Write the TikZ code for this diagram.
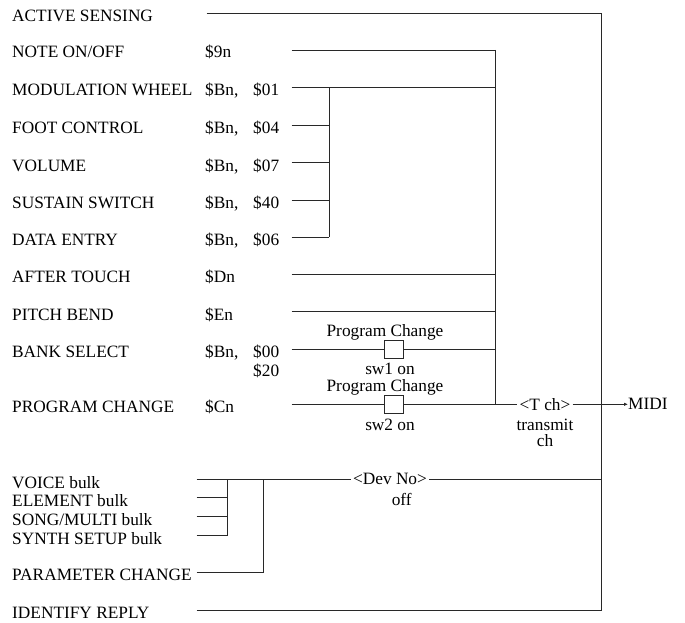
\documentclass[tikz,border=0pt]{standalone}
\usepackage{fontspec}
\setmainfont{Liberation Serif}
\usepackage{tikz}
\usetikzlibrary{arrows.meta, positioning}
\definecolor{mywire}{RGB}{40,40,40}
\tikzset{
  lbl/.style={anchor=base west, inner sep=0pt},
  ctr/.style={anchor=base, inner sep=0pt},
  wire/.style={line width=0.8pt, color=mywire},
  swbox/.style={rectangle, draw=mywire, fill=white, minimum width=19pt,
    minimum height=18pt, inner sep=0pt, line width=0.8pt},
  tag/.style={inner sep=2pt},
  arrow/.style={-{Latex[length=4pt,width=3.5pt]}, line width=0.8pt, color=mywire}
}

\begin{document}
\begin{tikzpicture}[x=1pt, y=-1pt, font=\fontsize{17.3}{19}\selectfont]
  \useasboundingbox (0,0) rectangle (685,623);

  % Bus lines
  \coordinate (outtop) at (601.7,13.3);
  \coordinate (outbot) at (601.7,610.7);
  \coordinate (chtop) at (495,50);
  \coordinate (chbot) at (495,404.3);
  \draw[wire] (outtop) -- (outbot);
  \draw[wire] (chtop) -- (chbot);

  % Active sensing
  \node[lbl] (as) at (12,21.3) {ACTIVE SENSING};
  \coordinate (as-w) at (206.7,13.3);
  \draw[wire] (as-w) -- (outtop);

  % Note on/off
  \node[lbl] (note) at (12,58) {NOTE ON/OFF};
  \node[lbl] (note-c) at (205,58) {\$9n};
  \coordinate (note-w) at (291.7,50);
  \draw[wire] (note-w) -- (chtop);

  % Control change group
  \coordinate (ccbus-top) at (329.3,87.7);
  \coordinate (ccbus-bot) at (329.3,237.3);
  \draw[wire] (ccbus-top) -- (ccbus-bot);

  \node[lbl] (mw) at (12,96) {MODULATION WHEEL};
  \node[lbl] (mw-s) at (205,96) {\$Bn,};
  \node[lbl] (mw-c) at (253,96) {\$01};
  \coordinate (mw-w) at (291.7,87.7);
  \coordinate (mw-e) at (495,87.7);
  \draw[wire] (mw-w) -- (mw-e);

  \node[lbl] (fc) at (12,133.3) {FOOT CONTROL};
  \node[lbl] (fc-s) at (205,133.3) {\$Bn,};
  \node[lbl] (fc-c) at (253,133.3) {\$04};
  \coordinate (fc-w) at (291.7,125);
  \draw[wire] (fc-w) -- (ccbus-top |- fc-w);

  \node[lbl] (vol) at (12,171) {VOLUME};
  \node[lbl] (vol-s) at (205,171) {\$Bn,};
  \node[lbl] (vol-c) at (253,171) {\$07};
  \coordinate (vol-w) at (291.7,162.7);
  \draw[wire] (vol-w) -- (ccbus-top |- vol-w);

  \node[lbl] (sus) at (12,208.3) {SUSTAIN SWITCH};
  \node[lbl] (sus-s) at (205,208.3) {\$Bn,};
  \node[lbl] (sus-c) at (253,208.3) {\$40};
  \coordinate (sus-w) at (291.7,200);
  \draw[wire] (sus-w) -- (ccbus-top |- sus-w);

  \node[lbl] (de) at (12,245.6) {DATA ENTRY};
  \node[lbl] (de-s) at (205,245.6) {\$Bn,};
  \node[lbl] (de-c) at (253,245.6) {\$06};
  \coordinate (de-w) at (291.7,237.3);
  \draw[wire] (de-w) -- (ccbus-bot);

  % After touch, pitch bend
  \node[lbl] (at) at (12,282.3) {AFTER TOUCH};
  \node[lbl] (at-c) at (205,282.3) {\$Dn};
  \coordinate (at-w) at (291.7,274);
  \draw[wire] (at-w) -- (chtop |- at-w);

  \node[lbl] (pb) at (12,320) {PITCH BEND};
  \node[lbl] (pb-c) at (205,320) {\$En};
  \coordinate (pb-w) at (291.7,311.7);
  \draw[wire] (pb-w) -- (chtop |- pb-w);

  % Bank select
  \node[lbl] (bs) at (12,357.3) {BANK SELECT};
  \node[lbl] (bs-s) at (205,357.3) {\$Bn,};
  \node[lbl] (bs-c) at (253,357.3) {\$00};
  \node[lbl] (bs-c2) at (253,376) {\$20};
  \coordinate (bs-w) at (291.7,349);
  \node[swbox] (sw1) at (393.7,349) {};
  \node[ctr] (sw1-t) at (385,336) {Program Change};
  \node[ctr] (sw1-b) at (390,374) {sw1 on};
  \draw[wire] (bs-w) -- (sw1);
  \draw[wire] (sw1) -- (chtop |- sw1);

  % Program change
  \node[lbl] (pc) at (12,412.6) {PROGRAM CHANGE};
  \node[lbl] (pc-c) at (205,412.6) {\$Cn};
  \coordinate (pc-w) at (291.7,404.3);
  \node[swbox] (sw2) at (393.7,404.3) {};
  \node[ctr] (sw2-t) at (385,391.7) {Program Change};
  \node[ctr] (sw2-b) at (390,430) {sw2 on};
  \draw[wire] (pc-w) -- (sw2);
  \draw[wire] (sw2) -- (chbot);

  % Transmit channel and MIDI out
  \node[tag] (tch) at (545,404.3) {\textless T ch\textgreater};
  \node[ctr] (tch-b1) at (545,430) {transmit};
  \node[ctr] (tch-b2) at (545,446.7) {ch};
  \node[anchor=west, inner sep=0pt] (midi) at (628,404.3) {MIDI};
  \draw[wire] (chbot) -- (tch);
  \draw[arrow] (tch) -- (midi);

  % Bulk dumps
  \coordinate (bulk-top) at (227.3,479.3);
  \coordinate (bulk-bot) at (227.3,535.7);
  \draw[wire] (bulk-top) -- (bulk-bot);

  \node[lbl] (vb) at (12,488.3) {VOICE bulk};
  \coordinate (vb-w) at (196.7,479.3);
  \node[lbl] (eb) at (12,506.7) {ELEMENT bulk};
  \coordinate (eb-w) at (196.7,497.7);
  \node[lbl] (sb) at (12,525.7) {SONG/MULTI bulk};
  \coordinate (sb-w) at (196.7,516.7);
  \node[lbl] (ssb) at (12,544.7) {SYNTH SETUP bulk};
  \coordinate (ssb-w) at (196.7,535.7);
  \draw[wire] (eb-w) -- (bulk-top |- eb-w);
  \draw[wire] (sb-w) -- (bulk-top |- sb-w);
  \draw[wire] (ssb-w) -- (bulk-bot);

  % Parameter change
  \node[lbl] (prm) at (12,580) {PARAMETER CHANGE};
  \coordinate (prm-w) at (196.7,572.7);
  \coordinate (prm-j) at (263.3,479.3);
  \draw[wire] (prm-w) -- (prm-j |- prm-w) -- (prm-j);

  % Device number
  \node[tag] (dev) at (390,479.3) {\textless Dev No\textgreater};
  \node[ctr] (dev-b) at (401.7,505) {off};
  \draw[wire] (vb-w) -- (dev);
  \draw[wire] (dev) -- (outtop |- dev);

  % Identify reply
  \node[lbl] (idr) at (12,618.3) {IDENTIFY REPLY};
  \coordinate (idr-w) at (196.7,610.7);
  \draw[wire] (idr-w) -- (outbot);
\end{tikzpicture}
\end{document}
